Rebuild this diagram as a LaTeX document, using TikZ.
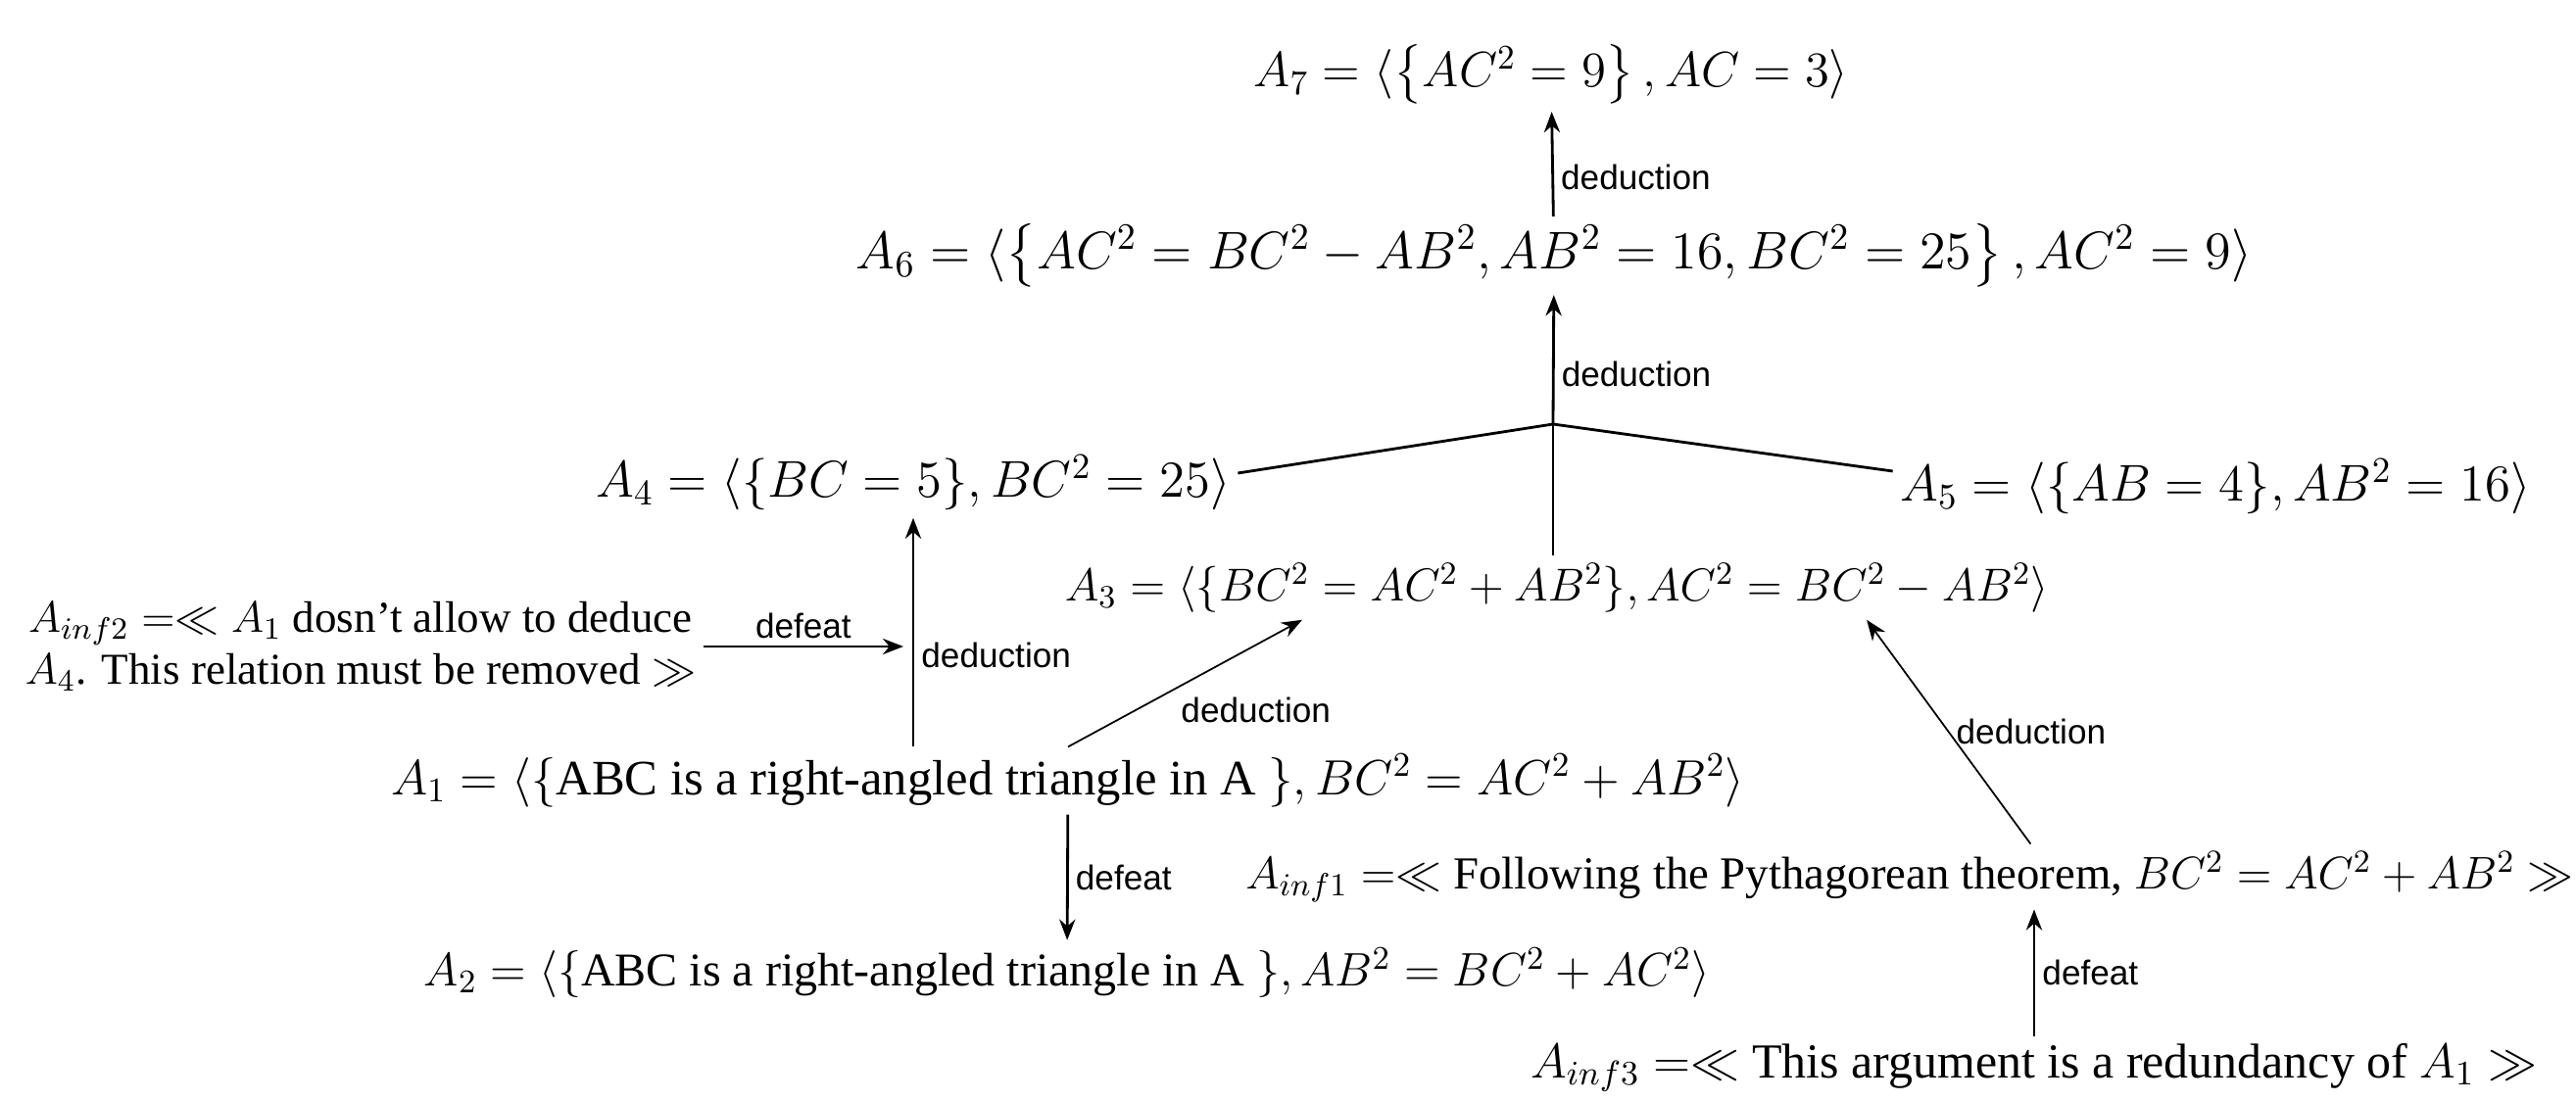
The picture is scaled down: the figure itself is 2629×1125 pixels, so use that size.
\RequirePackage{fix-cm}
\documentclass[tikz,border=0pt]{standalone}
\usepackage{amsmath,amssymb}
\usepackage{fontspec}
\setmainfont{Liberation Serif}
\setsansfont{Liberation Sans}
\usepackage{tikz}
\usetikzlibrary{arrows,arrows.meta,positioning,calc}

\begin{document}
\begin{tikzpicture}[x=0.01cm, y=-0.01cm,
  arg/.style={font=\fontsize{#1}{15}\selectfont, inner sep=2pt},
  arr/.style={->, >={Stealth[length=6pt,width=4.6pt]}, line width=0.8pt},
  seg/.style={line width=0.8pt},
  lbl/.style={font=\sffamily\fontsize{10}{12}\selectfont, inner sep=2pt}
]
\useasboundingbox (0,0) rectangle (2629,1125);

\node[arg=14.4] (A7) at (1583, 76) {$A_7 = \langle \left\{ AC^2 = 9 \right\} , AC = 3 \rangle$};
\node[arg=15.4] (A6) at (1586,261) {$A_6 = \langle \left\{ AC^2 = BC^2 - AB^2, AB^2 = 16, BC^2 = 25 \right\} , AC^2 = 9 \rangle$};
\node[arg=15] (A4) at ( 932,493) {$A_4 = \langle \{BC = 5\}, BC^2 = 25 \rangle$};
\node[arg=15] (A5) at (2261,497) {$A_5 = \langle \{AB = 4\}, AB^2 = 16 \rangle$};
\node[arg=13.4] (A3) at (1589,600) {$A_3 = \langle \{BC^2 = AC^2 + AB^2\}, AC^2 = BC^2 - AB^2 \rangle$};
\node[arg=12.8, align=center] (inf2) at (368,660) {$A_{inf2} =\ll A_1$ dosn't allow to deduce\\ $A_4$. This relation must be removed $\gg$};
\node[arg=14.4] (A1) at (1090,797) {$A_1 = \langle \{$ABC is a right-angled triangle in A $\}, BC^2 = AC^2 + AB^2 \rangle$};
\node[arg=13.3] (inf1) at (1949,895) {$A_{inf1} =\ll$ Following the Pythagorean theorem, $BC^2 = AC^2 + AB^2 \gg$};
\node[arg=13.65] (A2) at (1089,993) {$A_2 = \langle \{$ABC is a right-angled triangle in A $\}, AB^2 = BC^2 + AC^2 \rangle$};
\node[arg=14.2] (inf3) at (2076,1090) {$A_{inf3} =\ll$ This argument is a redundancy of $A_1 \gg$};

% junction of A3, A4, A5
\coordinate (J) at (1585,433);
\coordinate (inA4) at ($(A4.south |- inf2.east)+(-10,0)$);

\draw[arr] (A6) -- (A7) node[right,lbl,pos=0.375]{deduction};
\draw[seg] ($(A4.east)+(0,-10)$) -- (J);
\draw[seg] ($(A5.west)+(0,-16)$) -- (J);
\draw[seg] (A3.north -| J) -- (J);
\draw[arr] (J) -- (A6) node[right,lbl,pos=0.385]{deduction};
\draw[arr] (A4.south |- A1.north) -- (A4.south) node[right,lbl,pos=0.4]{deduction};
\draw[arr,line width=0.5pt] (A1.north) -- ($(A3.south west)!0.245!(A3.south east)$) node[below right,lbl,pos=0.45]{deduction};
\draw[arr,line width=0.5pt] ($(inf1.north west)!0.59!(inf1.north east)$) -- ($(A3.south west)!0.81!(A3.south east)$) node[right,lbl,midway]{deduction};
\draw[arr] (inf2.east) -- (inA4) node[above,lbl,midway]{defeat};
\draw[arr] (A1) -- (A2) node[right,lbl,midway]{defeat};
\draw[arr] (inf3.north) -- (inf3.north |- inf1.south) node[right,lbl,midway]{defeat};
\end{tikzpicture}
\end{document}
